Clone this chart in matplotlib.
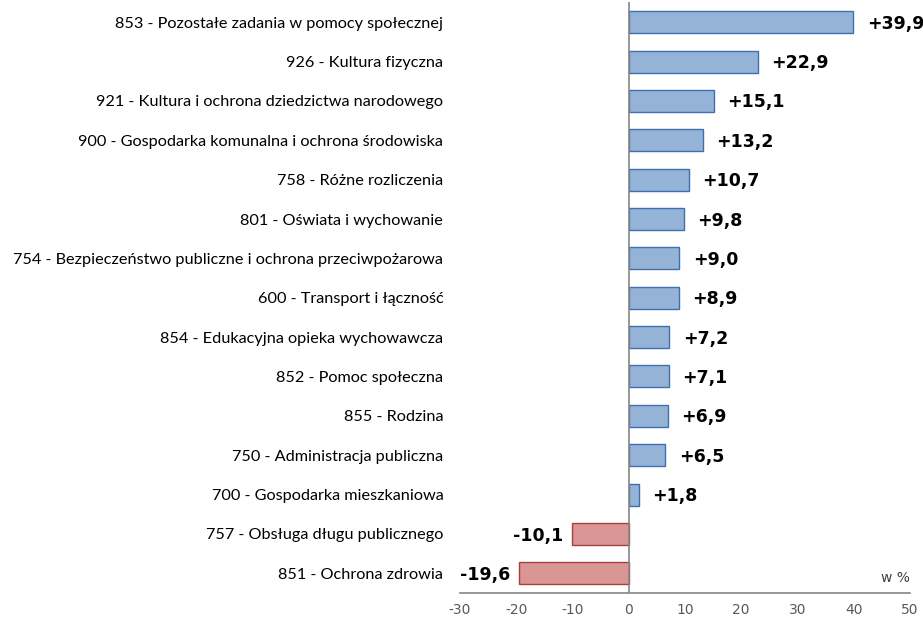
import matplotlib
matplotlib.use('Agg')
import matplotlib.pyplot as plt
import numpy as np

categories = [
    '853 - Pozostałe zadania w pomocy społecznej',
    '926 - Kultura fizyczna',
    '921 - Kultura i ochrona dziedzictwa narodowego',
    '900 - Gospodarka komunalna i ochrona środowiska',
    '758 - Różne rozliczenia',
    '801 - Oświata i wychowanie',
    '754 - Bezpieczeństwo publiczne i ochrona przeciwpożarowa',
    '600 - Transport i łączność',
    '854 - Edukacyjna opieka wychowawcza',
    '852 - Pomoc społeczna',
    '855 - Rodzina',
    '750 - Administracja publiczna',
    '700 - Gospodarka mieszkaniowa',
    '757 - Obsługa długu publicznego',
    '851 - Ochrona zdrowia',
]
values = [39.9, 22.9, 15.1, 13.2, 10.7, 9.8, 9.0, 8.9, 7.2, 7.1, 6.9, 6.5, 1.8, -10.1, -19.6]
x_ticks = [-30, -20, -10, 0, 10, 20, 30, 40, 50]


def fmt(v):
    s = '{:+.1f}'.format(v).replace('.', ',')
    return s


fig = plt.figure(figsize=(9.23, 6.19), dpi=100)
ax = fig.add_axes([0.4984, 0.042, 0.4875, 0.954])

y = np.arange(len(values))
face = ['#95B3D7' if v >= 0 else '#D99694' for v in values]
edge = ['#3F6FAE' if v >= 0 else '#A5403D' for v in values]
ax.barh(y, values, height=0.56, color=face, edgecolor=edge, linewidth=1.0, zorder=2)

# Value labels next to the bars
for i, v in enumerate(values):
    if v >= 0:
        ax.text(v + 2.4, i + 0.04, fmt(v), ha='left', va='center', fontsize=12.5,
                fontweight='bold', family='DejaVu Sans', color='black')
    else:
        ax.text(v - 1.5, i + 0.04, fmt(v), ha='right', va='center', fontsize=12.5,
                fontweight='bold', family='DejaVu Sans', color='black')

ax.set_xlim(-30, 50)
ax.set_ylim(len(values) - 0.5, -0.5)
ax.axvline(0, color='#868686', linewidth=1.2, zorder=3)

ax.set_xticks(x_ticks)
ax.set_xticklabels([str(t) for t in x_ticks], color='#595959', fontsize=10, family='DejaVu Sans')
ax.set_yticks(y)
ax.set_yticklabels(categories, fontsize=11.7, family='Lato', color='black')
ax.tick_params(axis='y', length=0, pad=12)
ax.tick_params(axis='x', length=0, pad=7)

for s in ['top', 'right', 'left']:
    ax.spines[s].set_visible(False)
ax.spines['bottom'].set_color('#868686')
ax.spines['bottom'].set_linewidth(1.2)

ax.text(1.0, 0.014, 'w %', transform=ax.transAxes, ha='right', va='bottom',
        fontsize=10, color='#404040', family='DejaVu Sans')

fig.savefig('out.png', dpi=100)
